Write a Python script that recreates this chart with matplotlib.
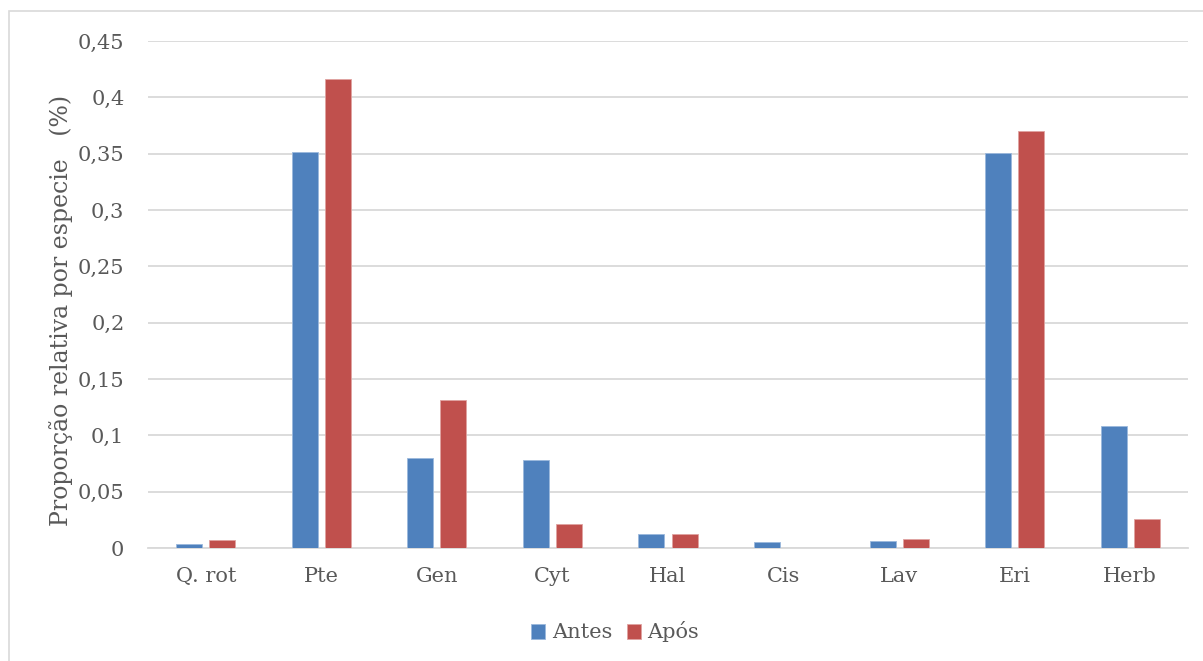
import numpy as np
from matplotlib import pyplot as plt
from matplotlib.patches import Rectangle
from matplotlib.ticker import FuncFormatter

categories = ['Q. rot', 'Pte', 'Gen', 'Cyt', 'Hal', 'Cis', 'Lav', 'Eri', 'Herb']
antes = [0.0036, 0.3515, 0.080, 0.078, 0.0125, 0.0055, 0.0062, 0.3505, 0.108]
apos = [0.0075, 0.4163, 0.1315, 0.0215, 0.0122, 0.0, 0.0078, 0.3705, 0.0258]
yticks = [0, 0.05, 0.1, 0.15, 0.2, 0.25, 0.3, 0.35, 0.4, 0.45]

W, H = 1203, 661
plt.rcParams['font.family'] = ['DejaVu Serif']
text_color = '#595959'
grid_color = '#d9d9d9'

fig = plt.figure(figsize=(W / 100, H / 100), dpi=100)
ax = fig.add_axes([148 / W, 1 - 548 / H, (1188 - 148) / W, (548 - 41) / H])

x = np.arange(len(categories))
width = 0.225
offset = 0.143
ax.bar(x - offset, antes, width, color='#4f81bd', edgecolor='#9bb8dc', linewidth=0.6, label='Antes', zorder=3)
ax.bar(x + offset, apos, width, color='#c0504d', edgecolor='#e0a3a1', linewidth=0.6, label='Após', zorder=3)

ax.set_xlim(-0.5, len(categories) - 0.5)
ax.set_ylim(0, 0.45)
ax.set_yticks(yticks)
ax.yaxis.set_major_formatter(FuncFormatter(lambda v, p: f"{v:g}".replace('.', ',')))
ax.set_xticks(x)
ax.set_xticklabels(categories)
ax.tick_params(axis='both', length=0, labelsize=15, colors=text_color)
ax.tick_params(axis='y', pad=17)
ax.tick_params(axis='x', pad=14)
ax.grid(axis='y', color=grid_color, linewidth=1.3, zorder=0)
for s in ['top', 'right', 'left']:
    ax.spines[s].set_visible(False)
ax.spines['bottom'].set_color(grid_color)
ax.spines['bottom'].set_linewidth(1.3)

# y label placed directly in figure coords
fig.text(61 / W, 1 - 310 / H, 'Proporção relativa por especie   (%)', rotation=90,
         ha='center', va='center', fontsize=17, color=text_color)

fig.legend(loc='center', bbox_to_anchor=(615 / W, 1 - 632 / H), ncol=2, frameon=False,
           fontsize=15, handlelength=0.7, handleheight=0.7, handletextpad=0.3,
           columnspacing=0.7, labelcolor=text_color)

fig.patches.append(Rectangle((8.5 / W, -0.05), 1.1, 1.05 - 11 / H, transform=fig.transFigure,
                             fill=False, edgecolor=grid_color, linewidth=1.2))

fig.savefig('out.png', dpi=100)
